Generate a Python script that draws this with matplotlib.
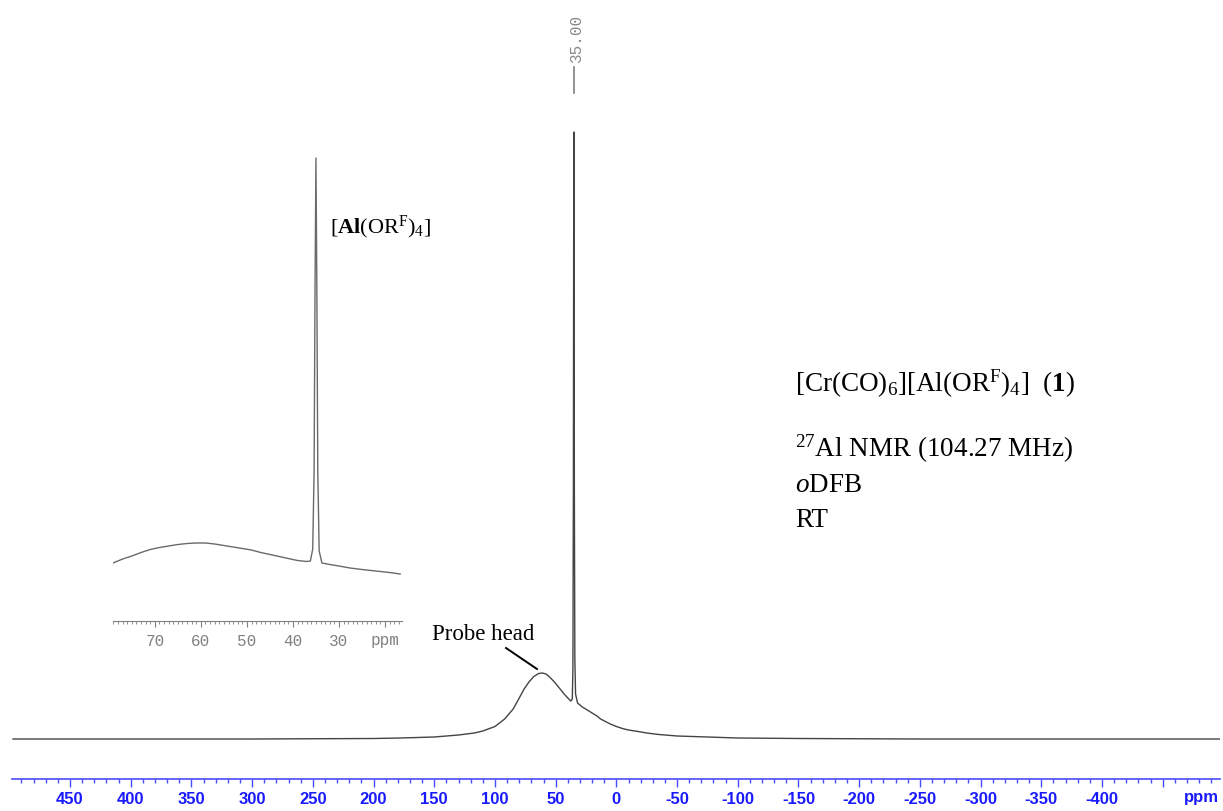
import numpy as np
import matplotlib
matplotlib.use("Agg")
import matplotlib.pyplot as plt
from matplotlib.ticker import MultipleLocator

plt.rcParams["font.family"] = ["Liberation Serif", "DejaVu Sans"]
plt.rcParams["mathtext.fontset"] = "custom"
plt.rcParams["mathtext.rm"] = "Liberation Serif"
plt.rcParams["mathtext.it"] = "Liberation Serif:italic"
plt.rcParams["mathtext.bf"] = "Liberation Serif:bold"

# main 27Al spectrum (ppm, intensity above baseline)
main_ppm = [497, 400, 300, 200, 178, 150, 130, 117, 110, 100, 92, 85, 80, 76, 72,
            68, 64, 61, 58, 55, 51, 47, 43, 40, 37.5, 36.3, 35.8, 35.4, 35.2, 35.0,
            34.8, 34.6, 34.2, 33.6, 32, 28, 24, 20, 16, 13, 9, 5, 0, -5, -10, -18,
            -25, -35, -50, -75, -100, -150, -250, -400, -497]
main_int = [0, 0, 0, 0.5, 1, 2, 4, 6, 8, 12.5, 20, 30, 41, 50, 57,
            62.5, 65.5, 66, 65, 62, 57, 51, 45, 41, 38, 40, 70, 250, 480, 607,
            480, 250, 80, 45, 36, 32, 29, 26, 23, 20, 17.5, 15, 12.5, 10.5, 9, 7.5,
            6, 4.5, 3, 2, 1, 0.5, 0, 0, 0]

# inset (expanded region 79-16 ppm)
inset_ppm = [79.1, 77, 75, 73, 71, 69, 67, 65, 63, 61, 59, 57, 55, 53, 51, 49,
             47, 45, 43, 41, 39, 37, 36.2, 35.7, 35.4, 35.2, 35.0, 34.8, 34.6,
             34.3, 33.7, 32, 30, 27.6, 25, 22, 19, 16.7]
inset_int = [58, 62, 65, 68.5, 71.5, 73.5, 75, 76.5, 77.5, 78, 78, 77, 75.5, 74,
             72.5, 71, 68.5, 66.5, 64.5, 62.5, 60.5, 59.5, 60, 72, 150, 330, 463,
             330, 150, 70, 58, 56.5, 55, 53, 51.5, 50, 48.5, 47]

main_ticks = [450, 400, 350, 300, 250, 200, 150, 100, 50, 0, -50, -100,
              -150, -200, -250, -300, -350, -400, -450]
main_labels = ["450", "400", "350", "300", "250", "200", "150", "100", "50", "0",
               "-50", "-100", "-150", "-200", "-250", "-300", "-350", "-400", ""]
inset_ticks = [70, 60, 50, 40, 30, 20]
inset_labels = ["70", "60", "50", "40", "30", "ppm"]

peak_ppm = 35.00

W, H = 1223, 811
fig = plt.figure(figsize=(W / 100, H / 100), dpi=100)

# main axes
ax = fig.add_axes([12 / W, 32 / H, 1208 / W, 779 / H])
ax.patch.set_visible(False)
ax.plot(main_ppm, main_int, color="#444444", lw=1.0)
ax.set_xlim(497.8, -497.2)
ax.set_ylim(-40, 739)
for s in ["top", "left", "right"]:
    ax.spines[s].set_visible(False)
ax.spines["bottom"].set_color("#4a4aff")
ax.spines["bottom"].set_linewidth(1.2)
ax.set_yticks([])
ax.set_xticks(main_ticks)
ax.set_xticklabels(main_labels, fontfamily="Liberation Sans", fontweight="bold",
                   fontsize=12, color="#1a1aff")
ax.xaxis.set_minor_locator(MultipleLocator(10))
ax.tick_params(axis="x", which="major", direction="out", length=6, width=1,
               color="#4a4aff", pad=3)
ax.tick_params(axis="x", which="minor", direction="out", length=3, width=1,
               color="#4a4aff")
ax.text(-482, -51, "ppm", fontfamily="Liberation Sans", fontweight="bold",
        fontsize=12, color="#1a1aff", ha="center", va="top")

# peak pick label
ax.plot([peak_ppm, peak_ppm], [646, 672], color="#808080", lw=1.2)
ax.text(peak_ppm - 2.5, 677, f"{peak_ppm:.2f}", rotation=90, ha="center", va="bottom",
        fontfamily="Liberation Mono", fontsize=11.5, color="#8a8a8a")

# probe head note
ax.text(151.9, 99, "Probe head", fontsize=16.5, ha="left", va="baseline")
ax.plot([90.9, 65.4], [91, 70], color="black", lw=1.4)

# sample description
tx = -147.1
ax.text(tx, 347, r"[Cr(CO)$_6$][Al(OR$^{\rm F}$)$_4$]  ($\mathbf{1}$)",
        fontsize=19.5, ha="left", va="baseline")
ax.text(tx, 282, r"$^{27}$Al NMR (104.27 MHz)", fontsize=19.5, ha="left", va="baseline")
ax.text(tx, 247, r"$\mathit{o}$DFB", fontsize=19.5, ha="left", va="baseline")
ax.text(tx, 212, "RT", fontsize=19.5, ha="left", va="baseline")

# inset
ins = fig.add_axes([113 / W, 190 / H, 289 / W, 521 / H])
ins.patch.set_visible(False)
ins.plot(inset_ppm, inset_int, color="#6a6a6a", lw=1.0)
ins.set_xlim(79.1, 16.3)
ins.set_ylim(0, 521)
for s in ["top", "left", "right"]:
    ins.spines[s].set_visible(False)
ins.spines["bottom"].set_color("#808080")
ins.set_yticks([])
ins.set_xticks(inset_ticks)
ins.set_xticklabels(inset_labels, fontfamily="Liberation Mono", fontsize=11.5,
                    color="#808080")
ins.xaxis.set_minor_locator(MultipleLocator(1))
ins.tick_params(axis="x", which="major", direction="out", length=4.5, width=0.8,
                color="#808080", pad=4.5)
ins.tick_params(axis="x", which="minor", direction="out", length=2.5, width=0.6,
                color="#808080")
ins.text(32.0, 388, r"[$\mathbf{Al}$(OR$^{\rm F}$)$_4$]", fontsize=16,
         ha="left", va="baseline")

fig.savefig("out.png", dpi=100)
